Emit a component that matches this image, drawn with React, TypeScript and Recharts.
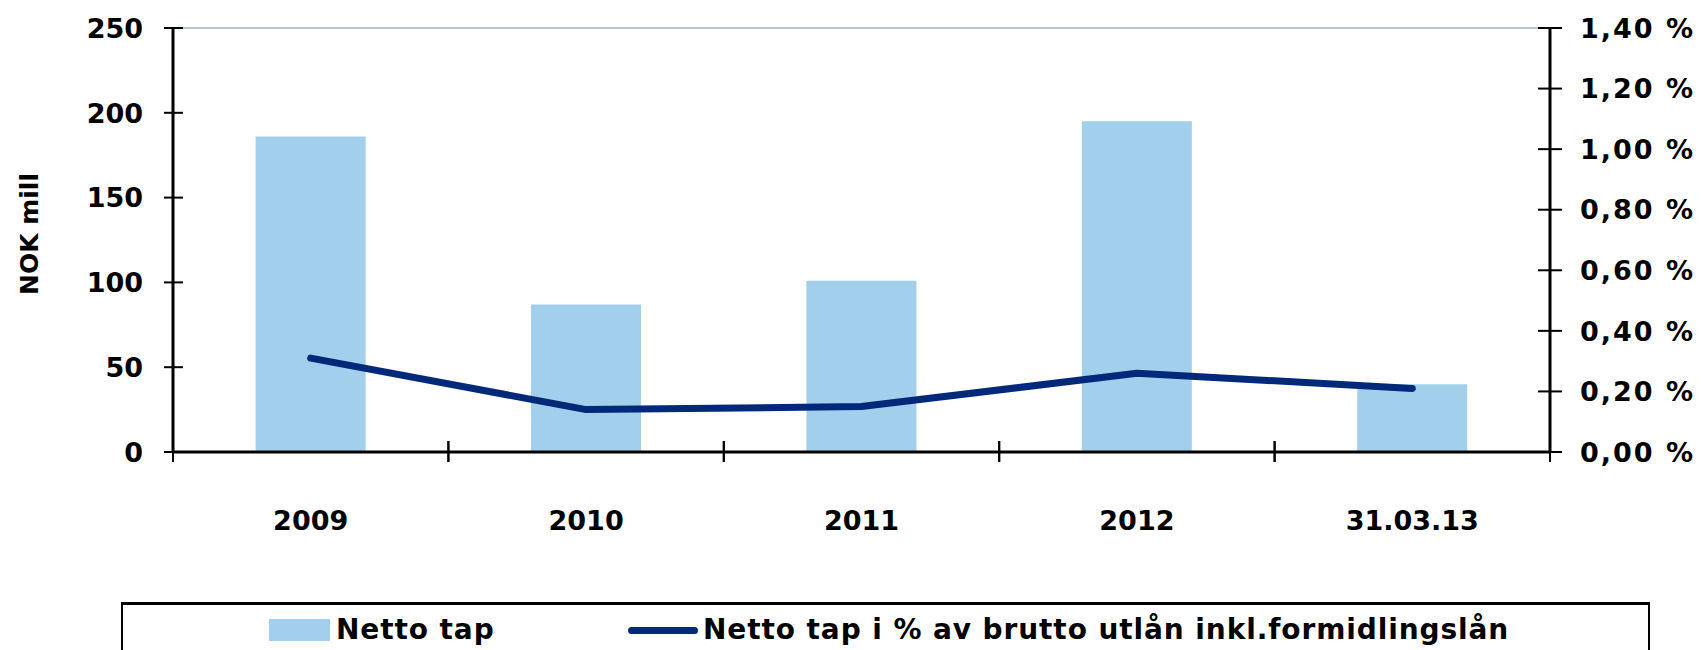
import React from "react";
import { ComposedChart, Bar, Line, XAxis, YAxis, ReferenceLine } from "recharts";

const categories = ["2009", "2010", "2011", "2012", "31.03.13"];
const nettoTap = [186, 87, 101, 195, 40];
const nettoTapPct = [0.31, 0.14, 0.15, 0.26, 0.21];
const leftTicks = [0, 50, 100, 150, 200, 250];
const rightTicks = [0, 0.2, 0.4, 0.6, 0.8, 1.0, 1.2, 1.4];

const data = categories.map((name, i) => ({
  name,
  tap: nettoTap[i],
  pct: nettoTapPct[i],
}));

const FONT = "'DejaVu Sans', Verdana, sans-serif";
const BAR_COLOR = "#a2cfeb";
const LINE_COLOR = "#00297a";
const PLOT_LEFT = 173;
const PLOT_RIGHT = 1550;

const fmtPct = (v: number) => v.toFixed(2).replace(".", ",") + " %";

const LeftTick = (props: any) => {
  const { x, y, payload } = props;
  return (
    <g>
      <line x1={x - 9} x2={x + 10} y1={y} y2={y} stroke="#000" strokeWidth={2} />
      <text x={x - 30} y={y} dy="0.36em" textAnchor="end" fontFamily={FONT} fontWeight="bold" fontSize={27} fill="#000">
        {payload.value}
      </text>
    </g>
  );
};

const RightTick = (props: any) => {
  const { x, y, payload } = props;
  return (
    <g>
      <line x1={x - 12} x2={x + 12} y1={y} y2={y} stroke="#000" strokeWidth={2} />
      <text
        x={x + 30}
        y={y}
        dy="0.36em"
        textAnchor="start"
        fontFamily={FONT}
        fontWeight="bold"
        fontSize={27}
        letterSpacing={2}
        fill="#000"
      >
        {fmtPct(payload.value)}
      </text>
    </g>
  );
};

const BottomTick = (props: any) => {
  const { x, y, payload } = props;
  const half = payload.offset > 0 ? payload.offset : (PLOT_RIGHT - PLOT_LEFT) / categories.length / 2;
  return (
    <g>
      <line x1={x - half} x2={x - half} y1={y - 11} y2={y + 10} stroke="#000" strokeWidth={2} />
      <line x1={x + half} x2={x + half} y1={y - 11} y2={y + 10} stroke="#000" strokeWidth={2} />
      <text x={x} y={y + 68} dy="0.36em" textAnchor="middle" fontFamily={FONT} fontWeight="bold" fontSize={27} fill="#000">
        {payload.value}
      </text>
    </g>
  );
};

const YLabel = (props: any) => {
  const { viewBox } = props;
  const cx = viewBox.x + 29;
  const cy = viewBox.y + viewBox.height / 2 - 6;
  return (
    <text
      x={cx}
      y={cy}
      transform={`rotate(-90 ${cx} ${cy})`}
      textAnchor="middle"
      dy="0.36em"
      fontFamily={FONT}
      fontWeight="bold"
      fontSize={25}
      fill="#000"
    >
      NOK mill
    </text>
  );
};

const legendText: React.CSSProperties = {
  position: "absolute",
  top: 613,
  fontFamily: FONT,
  fontWeight: "bold",
  fontSize: 28,
  lineHeight: "34px",
  letterSpacing: "0.9px",
  color: "#000",
  whiteSpace: "nowrap",
};

export default function App() {
  return (
    <div style={{ position: "absolute", left: 0, top: 0, width: 1702, height: 650, overflow: "hidden", background: "#fff" }}>
      <ComposedChart
        width={1702}
        height={650}
        data={data}
        margin={{ top: 28, right: 0, bottom: 0, left: 0 }}
        barCategoryGap="30%"
      >
        <XAxis
          dataKey="name"
          height={198}
          tickSize={0}
          tickMargin={0}
          tickLine={false}
          interval={0}
          axisLine={{ stroke: "#000", strokeWidth: 3 }}
          tick={<BottomTick />}
        />
        <YAxis
          yAxisId="left"
          orientation="left"
          width={173}
          domain={[0, 250]}
          ticks={leftTicks}
          interval={0}
          tickSize={0}
          tickMargin={0}
          tickLine={false}
          axisLine={{ stroke: "#000", strokeWidth: 3 }}
          tick={<LeftTick />}
          label={<YLabel />}
        />
        <YAxis
          yAxisId="right"
          orientation="right"
          width={152}
          domain={[0, 1.4]}
          ticks={rightTicks}
          interval={0}
          tickSize={0}
          tickMargin={0}
          tickLine={false}
          axisLine={{ stroke: "#000", strokeWidth: 3 }}
          tick={<RightTick />}
        />
        <ReferenceLine yAxisId="left" y={250} stroke="#b4c6d2" strokeWidth={2} />
        <Bar yAxisId="left" dataKey="tap" name="Netto tap" fill={BAR_COLOR} isAnimationActive={false} />
        <Line
          yAxisId="right"
          dataKey="pct"
          name="Netto tap i % av brutto utlån inkl.formidlingslån"
          type="linear"
          stroke={LINE_COLOR}
          strokeWidth={7}
          strokeLinecap="round"
          strokeLinejoin="round"
          dot={false}
          activeDot={false}
          isAnimationActive={false}
        />
      </ComposedChart>
      <div
        style={{
          position: "absolute",
          left: 121,
          top: 602,
          width: 1529,
          height: 80,
          border: "2px solid #000",
          borderTopWidth: 3,
          boxSizing: "border-box",
        }}
      />
      <div style={{ position: "absolute", left: 269, top: 619, width: 61, height: 22, background: BAR_COLOR }} />
      <div style={{ ...legendText, left: 336 }}>Netto tap</div>
      <div style={{ position: "absolute", left: 628, top: 627, width: 70, height: 7, borderRadius: 4, background: LINE_COLOR }} />
      <div style={{ ...legendText, left: 703 }}>Netto tap i % av brutto utlån inkl.formidlingslån</div>
    </div>
  );
}
